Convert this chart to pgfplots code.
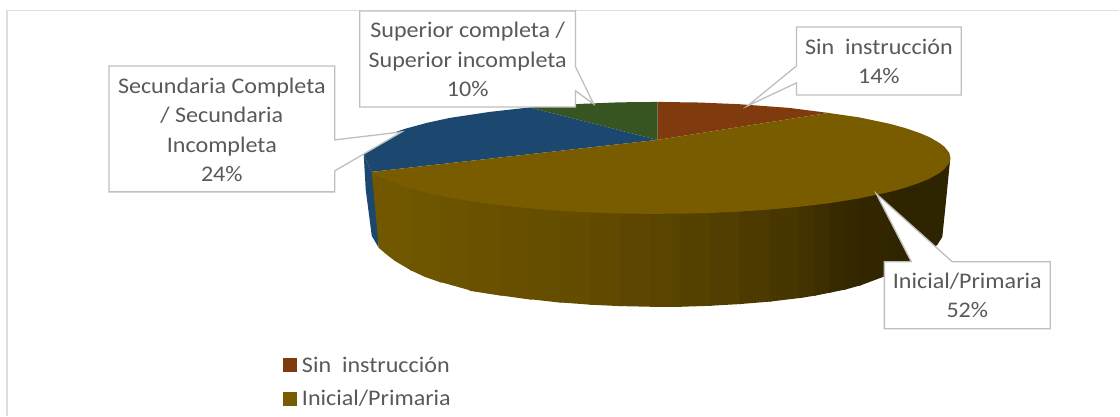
\documentclass[border=0pt]{standalone}
\usepackage{pgfplots}
\pgfplotsset{compat=1.18}
\usepackage{fontspec}
\setmainfont{Carlito}[FakeStretch=1.08]
\definecolor{txt}{HTML}{595959}
\definecolor{cbord}{HTML}{BFBFBF}
\definecolor{brownc}{HTML}{7F3B0E}
\definecolor{olivec}{HTML}{7A5C00}
\definecolor{bluec}{HTML}{1C4870}
\definecolor{greenc}{HTML}{375520}
\definecolor{framec}{HTML}{DEDEDE}
\tikzset{lab/.style={font=\fontsize{22.3}{29.5}\selectfont, text=txt, align=center, inner sep=0pt}}
\newcommand{\strip}[3]{\addplot[fill={rgb,255:red,#1;green,#2;blue,0},draw=none] coordinates {#3} --cycle;}
\begin{document}
\begin{tikzpicture}
\begin{axis}[
  scale only axis, width=1120pt, height=416pt,
  xmin=0, xmax=1120, ymin=0, ymax=416, y dir=reverse,
  hide axis, no markers, clip=false,
]
% invisible corners keep the picture at full size
\addplot[draw=none] coordinates {(0,0) (1120,416)};
% frame
\addplot[framec, line width=1.6pt] coordinates {(7,416) (7,10.5) (1120,10.5)};
% blue side
\addplot[fill=bluec, draw=none] coordinates {(364,155) (366,190) (372,236) (379,248) (378,175) (372,172)} --cycle;
% front side strips (each runs a little under the next)
\strip{112}{87}{(372,172) (378,175.6) (412,188.4) (412,271) (395,261) (386,254) (379,248)}
\strip{110}{85}{(410,180) (442,190) (442,283) (425,277) (410,270)}
\strip{108}{83}{(440,190) (472,195) (472,291) (440,282)}
\strip{106}{81}{(470,195) (502,200) (502,296) (470,291)}
\strip{104}{79}{(500,200) (532,202) (532,300) (500,295.5)}
\strip{102}{78}{(530,202) (562,205) (562,303) (530,299.4)}
\strip{100}{76}{(560,205) (592,206) (592,305) (560,302.6)}
\strip{97}{74}{(590,206) (622,207) (622,306.4) (590,304.9)}
\strip{93}{71}{(620,207) (652,208) (652,307) (620,306.3)}
\strip{89}{68}{(650,208) (682,208) (682,307) (650,307)}
\strip{85}{65}{(680,208) (712,207) (712,306) (680,307)}
\strip{81}{62}{(710,207) (742,206) (742,304.2) (710,306)}
\strip{76}{58}{(740,206) (772,204) (772,301.7) (740,304.3)}
\strip{71}{54}{(770,204) (802,200) (802,298) (770,301.9)}
\strip{65}{50}{(800,200) (817,199) (817,295.6) (800,298.4)}
\strip{60}{46}{(815,199) (832,197) (832,292.6) (815,296)}
\strip{55}{42}{(830,197) (847,195) (847,289.5) (830,293)}
\strip{52}{40}{(845,195) (862,192) (862,285.3) (845,290)}
\strip{49}{38}{(860,192) (892,186) (892,274) (860,286)}
\strip{47}{36}{(890,186) (905,182) (922,177) (922,257) (905,267) (890,275)}
\strip{47}{36}{(920,177) (930,172) (945,165) (951,158) (947,198) (943,237) (938,245) (930,251) (920,258)}
% top faces
\addplot[fill=brownc, draw=none] coordinates {(658,140) (658,102) (700,102.6) (740,104.3) (790,108) (829,113)} --cycle;
\addplot[fill=greenc, draw=none] coordinates {(658,140) (658,102) (620,102.4) (580,104) (530,107.5)} --cycle;
\addplot[fill=bluec, draw=none] coordinates {(658,140) (530,107.5) (490,112) (450,118) (427,123) (405,129) (392,133.5) (380,139) (372,146) (364,155) (372,172)} --cycle;
\addplot[fill=olivec, draw=none] coordinates {(658,140) (829,113) (860,117.5) (890,123.8) (905,127.9) (920,133) (930,137.2) (940,143) (945,146.8) (950,153) (951,158)
  (950,163) (945,169.2) (940,173.2) (930,178.8) (920,183) (905,188.1) (890,192.2) (860,198.5) (830,203.3) (800,206.9) (770,209.7) (740,211.7) (710,213.1) (680,213.8)
  (650,214) (620,213.6) (590,212.5) (560,210.9) (530,208.5) (500,205.3) (470,201.2) (440,195.8) (410,188.4) (390,181) (378,175.6) (372,172)} --cycle;
% callouts
\addplot[fill=white, draw=cbord, line width=1.3pt] coordinates {(109,66) (335,66) (335,140) (402,132) (335,171) (335,192) (109,192)} --cycle;
\addplot[fill=white, draw=cbord, line width=1.3pt] coordinates {(360,11) (576,11) (576,67) (594,104) (576,91) (576,107) (360,107)} --cycle;
\addplot[fill=white, draw=cbord, line width=1.3pt] coordinates {(797,27) (962,27) (962,95) (797,95) (797,83) (748,106) (797,66)} --cycle;
\addplot[fill=white, draw=cbord, line width=1.3pt] coordinates {(885,262) (912,262) (877,194) (953,262) (1051,262) (1051,329) (885,329)} --cycle;
\node[lab] at (axis cs:222,130) {Secundaria Completa\\/ Secundaria\\Incompleta\\24\%};
\node[lab] at (axis cs:468,59.5) {Superior completa /\\Superior incompleta\\10\%};
\node[lab] at (axis cs:879.5,61.5) {Sin\ \ instrucción\\14\%};
\node[lab] at (axis cs:968,295.5) {Inicial/Primaria\\52\%};
% legend
\addplot[fill=brownc, draw=none] coordinates {(283,358) (297,358) (297,372) (283,372)} --cycle;
\addplot[fill=olivec, draw=none] coordinates {(283,392) (297,392) (297,406) (283,406)} --cycle;
\node[lab,anchor=west] at (axis cs:302,365) {Sin\ \ instrucción};
\node[lab,anchor=west] at (axis cs:302,399) {Inicial/Primaria};
\end{axis}
\end{tikzpicture}
\end{document}
